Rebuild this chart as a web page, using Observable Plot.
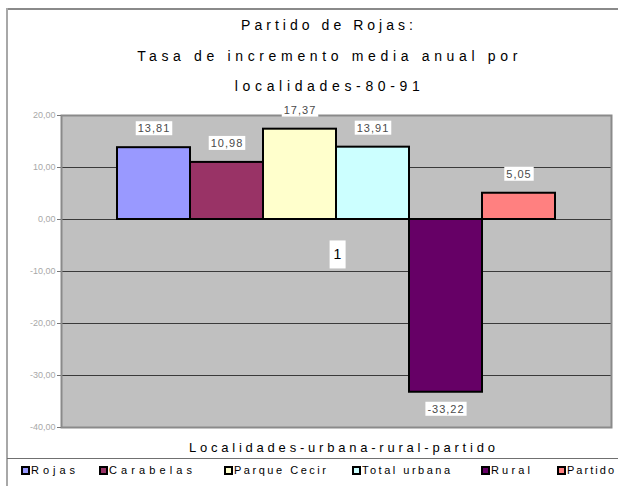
<!DOCTYPE html>
<html>
<head>
<meta charset="utf-8">
<script src="https://cdn.jsdelivr.net/npm/d3@7"></script>
<script src="https://cdn.jsdelivr.net/npm/@observablehq/plot@0.6"></script>
<style>
  html, body { margin: 0; padding: 0; background: #fff; }
  #root { position: relative; width: 618px; height: 486px; overflow: hidden; background: #fff;
          font-family: "Liberation Sans", Arial, sans-serif; }
  .abs { position: absolute; }
  .tline { position: absolute; left: 0; width: 650px; text-align: center; font-size: 14px; color: #000; white-space: nowrap; line-height: 16px; }
  .leg { position: absolute; top: 463px; font-size: 11px; line-height: 14px; white-space: nowrap; color: #000; }
  .sw { position: absolute; top: 3px; left: 0; width: 5px; height: 5px; border: 2px solid #000; }
  .lt { position: absolute; left: 10px; top: 0; }
</style>
</head>
<body>
<div id="root">
  <div class="abs" style="left:7px;top:8px;width:611px;height:2px;background:#8a8a8a"></div>
  <div class="abs" style="left:6px;top:8px;width:2px;height:478px;background:#a8a8a8"></div>
  <div class="abs" style="left:7px;top:458px;width:611px;height:1px;background:#707070"></div>
  <div id="title"></div>
  <div id="chart" class="abs" style="left:0;top:0"></div>
  <div id="xtitle"></div>
  <div id="legend"></div>
</div>
<script>
// ---- data ----
const categories = ["Rojas", "Carabelas", "Parque Cecir", "Total urbana", "Rural", "Partido"];
const values = [13.81, 10.98, 17.37, 13.91, -33.22, 5.05];
const colors = ["#9999FF", "#993366", "#FFFFCC", "#CCFFFF", "#660066", "#FF8080"];
const yTicks = [20, 10, 0, -10, -20, -30, -40];
const categoryLabel = "1";
const titleLines = ["Partido de Rojas:", "Tasa de incremento media anual por", "localidades-80-91"];
const xTitle = "Localidades-urbana-rural-partido";

const fmt = v => v.toFixed(2).replace(".", ",");
const data = categories.map((c, i) => ({cat: c, value: values[i]}));

// ---- text helpers ----
const canvas = document.createElement("canvas");
const ctx = canvas.getContext("2d");
function spacingFor(text, font, target) {
  ctx.font = font;
  const w = ctx.measureText(text).width;
  return Math.max(0, (target - w) / Math.max(1, text.length - 1));
}

// ---- title ----
const titleTargets = [172, 380, 185];
const titleTops = [17, 48, 78];
const titleEl = document.getElementById("title");
titleLines.forEach((t, i) => {
  const d = document.createElement("div");
  d.className = "tline";
  d.style.top = titleTops[i] + "px";
  const ls = spacingFor(t, "14px 'Liberation Sans'", titleTargets[i]);
  d.style.letterSpacing = ls + "px";
  d.style.paddingLeft = ls + "px";
  d.textContent = t;
  titleEl.append(d);
});

// ---- x title ----
{
  const d = document.createElement("div");
  d.className = "tline";
  d.style.fontSize = "13px";
  d.style.top = "440px";
  d.style.width = "680px";
  const ls = spacingFor(xTitle, "13px 'Liberation Sans'", 306);
  d.style.letterSpacing = ls + "px";
  d.style.paddingLeft = ls + "px";
  d.textContent = xTitle;
  document.getElementById("xtitle").append(d);
}

// ---- legend ----
const legendLeft = [21, 99, 224, 352, 481, 557];
const legendTextW = [44, 83, 92, 88, 39, 47];
const legendEl = document.getElementById("legend");
categories.forEach((c, i) => {
  const item = document.createElement("div");
  item.className = "leg";
  item.style.left = legendLeft[i] + "px";
  const sw = document.createElement("div");
  sw.className = "sw";
  sw.style.background = colors[i];
  const tx = document.createElement("div");
  tx.className = "lt";
  tx.style.letterSpacing = spacingFor(c, "11px 'Liberation Sans'", legendTextW[i]) + "px";
  tx.textContent = c;
  item.append(sw, tx);
  legendEl.append(item);
});

// ---- chart ----
const plot = Plot.plot({
  width: 618,
  height: 486,
  marginTop: 115,
  marginBottom: 59,
  marginLeft: 61,
  marginRight: 7,
  style: {background: "transparent", fontFamily: "'Liberation Sans', Arial, sans-serif", overflow: "visible"},
  x: {domain: categories, paddingInner: 0, paddingOuter: 0.741, axis: null},
  y: {domain: [-40, 20], label: null},
  color: {domain: categories, range: colors},
  marks: [
    Plot.frame({fill: "#C0C0C0"}),
    Plot.ruleY(yTicks.filter(t => t > -40 && t < 20), {stroke: "#3a3a3a", strokeWidth: 1}),
    Plot.barY(data, {x: "cat", y: "value", fill: "cat", stroke: "#000", strokeWidth: 2}),
    Plot.frame({stroke: "#8a8a8a", strokeWidth: 2}),
    Plot.axisY({ticks: yTicks, tickFormat: fmt, tickSize: 4, tickPadding: 2, fontSize: 9,
                fill: "#a8a8a8", stroke: "#777", label: null}),
    Plot.text(data.filter(d => d.value >= 0), {x: "cat", y: "value", text: d => fmt(d.value),
              dy: -19, fontSize: 11, fill: "#4a4a4a"}),
    Plot.text(data.filter(d => d.value < 0), {x: "cat", y: "value", text: d => fmt(d.value),
              dy: 17, fontSize: 11, fill: "#4a4a4a"}),
    Plot.text([categoryLabel], {text: d => d, frameAnchor: "top", dy: 134, dx: 1, fontSize: 14,
              fill: "#000"})
  ]
});
document.getElementById("chart").append(plot);

const svgNS = "http://www.w3.org/2000/svg";
function boxBehind(group, padX, padY, ls) {
  group.querySelectorAll("text").forEach(t => {
    if (ls) t.setAttribute("letter-spacing", ls);
    const b = t.getBBox();
    const r = document.createElementNS(svgNS, "rect");
    r.setAttribute("x", b.x - padX);
    r.setAttribute("y", b.y - padY);
    r.setAttribute("width", b.width + 2 * padX);
    r.setAttribute("height", b.height + 2 * padY);
    r.setAttribute("fill", "#fff");
    const tr = t.getAttribute("transform");
    if (tr) r.setAttribute("transform", tr);
    t.parentNode.insertBefore(r, t);
  });
}
const textGroups = Array.from(plot.querySelectorAll('g[aria-label="text"]'));
if (textGroups.length >= 3) {
  boxBehind(textGroups[0], 2, 1, 1);
  boxBehind(textGroups[1], 2, 1, 1);
  boxBehind(textGroups[2], 4, 6, 0);
}
</script>
</body>
</html>
